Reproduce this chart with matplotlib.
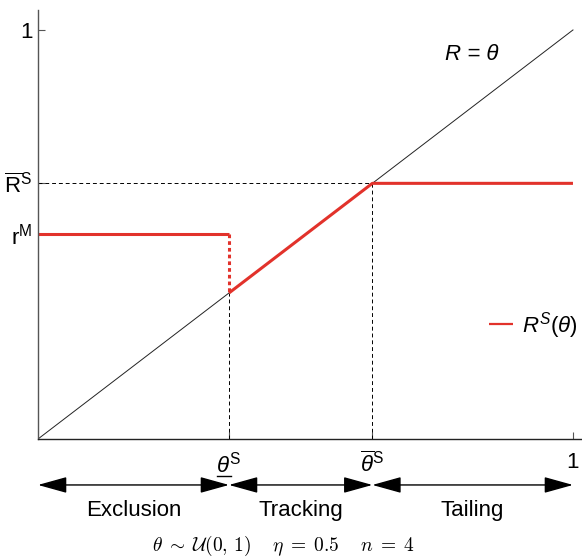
import matplotlib
matplotlib.use('Agg')
from matplotlib import pyplot as plt
from matplotlib.patches import ArrowStyle

# model values
theta_low = 0.357      # lower threshold (exclusion -> tracking)
theta_high = 0.625     # upper threshold (tracking -> tailing)
R_bar = 0.625
r_M = 0.5

rs_x = [0, theta_low, theta_low, theta_high, 1.0]
rs_y = [r_M, r_M, theta_low, R_bar, R_bar]

regions = ['Exclusion', 'Tracking', 'Tailing']
region_edges = [0, theta_low, theta_high, 1.0]

RED = '#e2322b'
FS = 16

plt.rcParams['font.family'] = ['Liberation Sans', 'DejaVu Sans']
plt.rcParams['mathtext.fontset'] = 'custom'
plt.rcParams['mathtext.rm'] = 'Liberation Sans'
plt.rcParams['mathtext.it'] = 'Liberation Sans:italic'
plt.rcParams['mathtext.bf'] = 'Liberation Sans:bold'

fig = plt.figure(figsize=(5.82, 5.58), dpi=100)
ax = fig.add_axes([38 / 582, 1 - 439 / 558, 543 / 582, 429.5 / 558])
ax.set_xlim(0, 1.015)
ax.set_ylim(0, 1.05)

# 45 degree line
ax.plot([0, 1], [0, 1], color='#222222', lw=0.7)

# guide lines
ax.plot([0, theta_high], [R_bar, R_bar], color='k', lw=0.7, ls=(0, (4, 3)))
ax.plot([theta_high, theta_high], [0, R_bar], color='k', lw=0.7, ls=(0, (4, 3)))
ax.plot([theta_low, theta_low], [0, theta_low], color='k', lw=0.7, ls=(0, (4, 3)))

# R^S(theta): solid pieces + dotted jump
ax.plot(rs_x[:2], rs_y[:2], color=RED, lw=2.2, solid_capstyle='butt',
        label=r'$R^{S}(\theta)$')
ax.plot(rs_x[1:3], rs_y[1:3], color=RED, lw=2.2, ls=(0, (1.2, 1.0)))
ax.plot(rs_x[2:], rs_y[2:], color=RED, lw=2.2, solid_capstyle='butt')

ax.text(0.81, 0.94, 'R = θ', fontsize=FS, style='italic', ha='center', va='center')

# spines / ticks
for s in ['top', 'right']:
    ax.spines[s].set_visible(False)
ax.spines['left'].set_color('#555555')
ax.spines['left'].set_linewidth(1.0)
ax.spines['bottom'].set_color('#222222')
ax.spines['bottom'].set_linewidth(1.0)

ax.set_yticks([r_M, R_bar, 1])
ax.set_yticklabels([r'$\mathrm{r}^{\mathrm{M}}$', r'$\overline{\mathrm{R}}^{\mathrm{S}}$', '1'])
ax.set_xticks([theta_low, theta_high, 1])
ax.set_xticklabels([r'$\theta^{\mathrm{S}}$', r'$\overline{\theta}^{\mathrm{S}}$', '1'])
ax.tick_params(axis='both', direction='in', length=5, width=0.8, color='#555555',
               labelsize=FS)
ax.tick_params(axis='x', pad=9)
ax.tick_params(axis='y', pad=4)

# underline for the lower threshold label
xt = ax.get_xaxis_transform()
ax.plot([theta_low - 0.022, theta_low + 0.003], [-0.087, -0.087], color='k', lw=1.0,
        transform=xt, clip_on=False)

# region arrows and names
arrow = ArrowStyle('<|-|>', head_length=1.8, head_width=0.5)
for i, name in enumerate(regions):
    a, b = region_edges[i], region_edges[i + 1]
    ax.annotate('', xy=(b, -0.107), xytext=(a, -0.107), xycoords=xt, textcoords=xt,
                arrowprops=dict(arrowstyle=arrow, mutation_scale=10, color='k', lw=1.0,
                                shrinkA=0, shrinkB=0))
    ax.text((a + b) / 2, -0.166, name, transform=xt, ha='center', va='center', fontsize=FS)

leg = ax.legend(loc='center left', bbox_to_anchor=(0.83, 0.265), frameon=False, fontsize=FS,
                handlelength=1.1, handletextpad=0.4, borderpad=0, borderaxespad=0)
for h in leg.get_lines():
    h.set_linewidth(1.6)

fig.text((153 + 413) / 2 / 582, 1 - 546 / 558,
         r'$\theta\;\sim\;\mathcal{U}(0,\,1)\quad\; \eta\;=\;0.5\quad\; n\;=\;4$',
         ha='center', va='center', fontsize=14, math_fontfamily='cm')

fig.savefig('out.png', dpi=100)
